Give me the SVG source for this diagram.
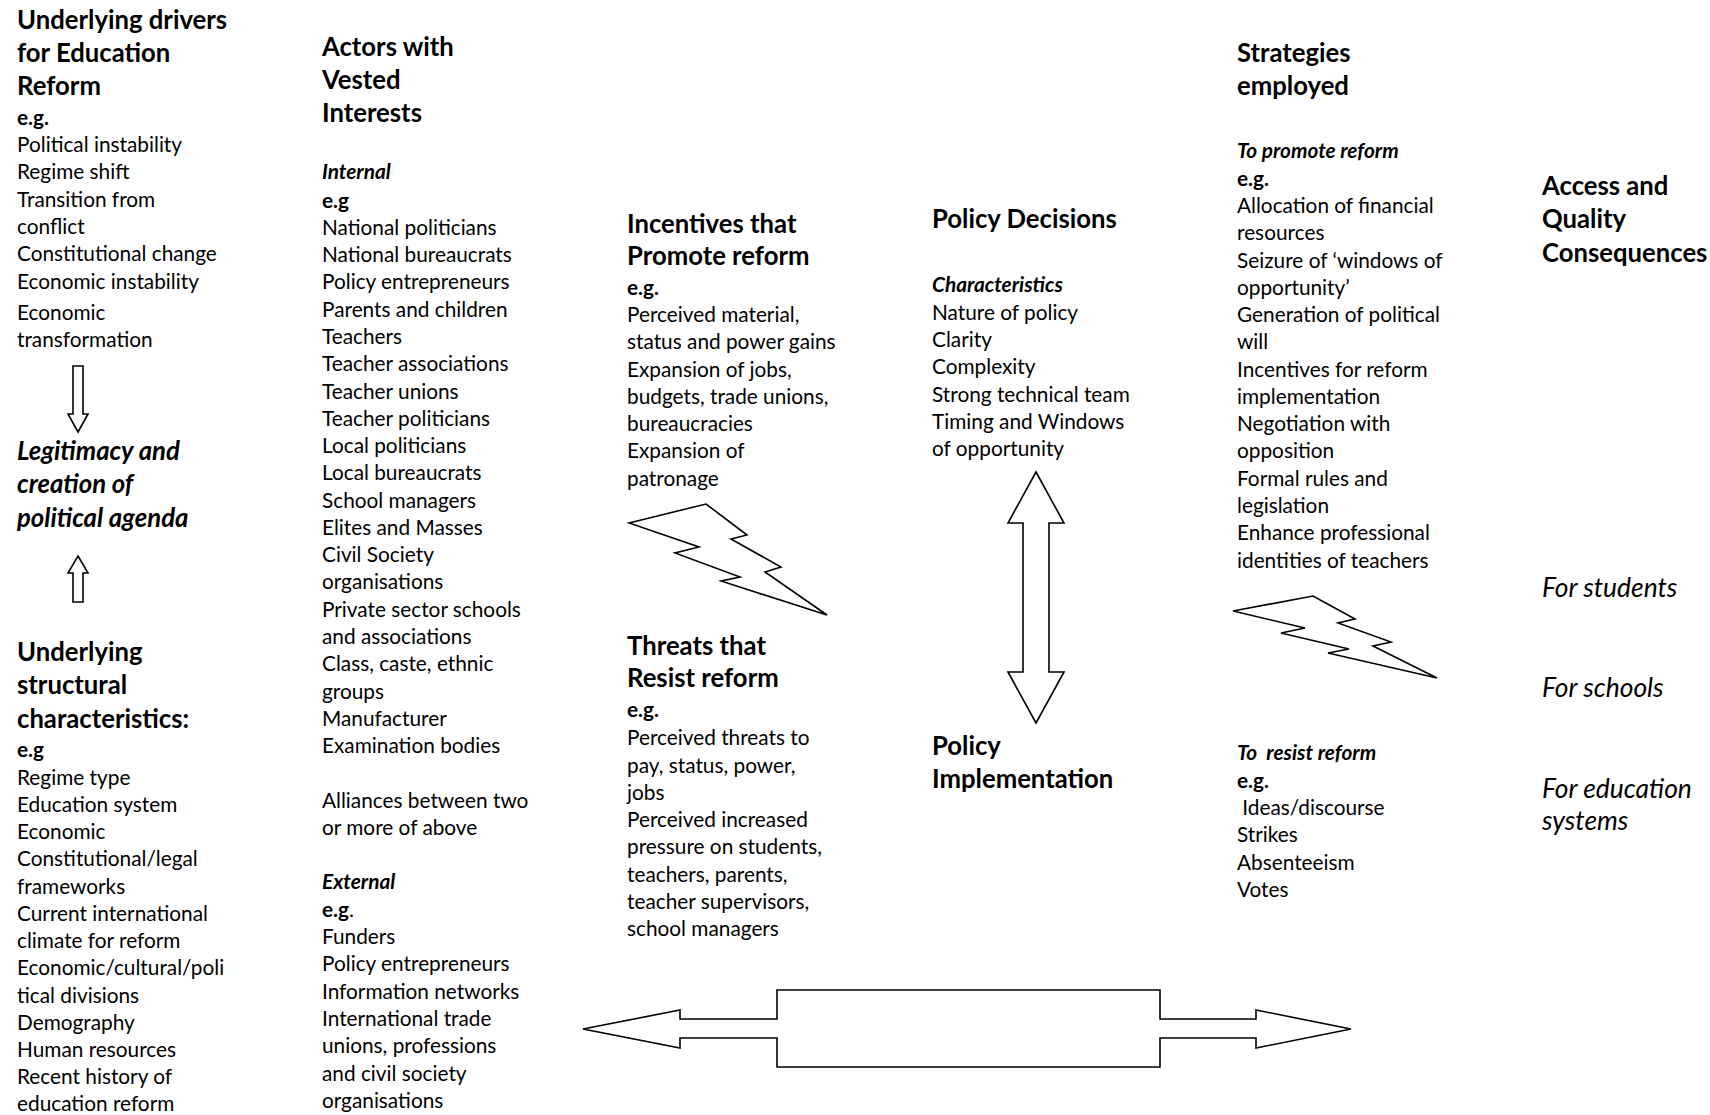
<svg xmlns="http://www.w3.org/2000/svg" width="1710" height="1115" viewBox="0 0 1710 1115">
<style>
text{font-family:Lato,"Liberation Sans",sans-serif;fill:#000}
.h{font-size:25.7px;font-weight:700}
.hi{font-size:25.7px;font-weight:700;font-style:italic}
.it{font-size:26.4px;font-style:italic}
.b{font-size:20.8px}
.eg{font-size:20.8px;font-weight:700}
.bi{font-size:20.8px;font-weight:700;font-style:italic}
.shape{fill:#fff;stroke:#000;stroke-width:1.6;stroke-linejoin:miter}
</style>
<rect width="1710" height="1115" fill="#fff"/>

<g transform="translate(0,2)">
<g id="drivers">
<text class="h" x="17"><tspan x="17" y="27">Underlying drivers</tspan><tspan x="17" y="60">for Education</tspan><tspan x="17" y="93">Reform</tspan></text>
<text class="eg" x="17" y="123">e.g.</text>
<text class="b"><tspan x="17" y="150">Political instability</tspan><tspan x="17" y="177">Regime shift</tspan><tspan x="17" y="205">Transition from</tspan><tspan x="17" y="232">conflict</tspan><tspan x="17" y="259">Constitutional change</tspan><tspan x="17" y="287">Economic instability</tspan><tspan x="17" y="318">Economic</tspan><tspan x="17" y="345">transformation</tspan></text>
</g>

<g id="legitimacy">
<text class="hi"><tspan x="17" y="458">Legitimacy and</tspan><tspan x="17" y="491">creation of</tspan><tspan x="17" y="525">political agenda</tspan></text>
</g>

<g id="structural">
<text class="h"><tspan x="17" y="659">Underlying</tspan><tspan x="17" y="692">structural</tspan><tspan x="17" y="726">characteristics:</tspan></text>
<text class="eg" x="17" y="755">e.g</text>
<text class="b"><tspan x="17" y="783">Regime type</tspan><tspan x="17" y="810">Education system</tspan><tspan x="17" y="837">Economic</tspan><tspan x="17" y="864">Constitutional/legal</tspan><tspan x="17" y="892">frameworks</tspan><tspan x="17" y="919">Current international</tspan><tspan x="17" y="946">climate for reform</tspan><tspan x="17" y="973">Economic/cultural/poli</tspan><tspan x="17" y="1001">tical divisions</tspan><tspan x="17" y="1028">Demography</tspan><tspan x="17" y="1055">Human resources</tspan><tspan x="17" y="1082">Recent history of</tspan><tspan x="17" y="1109">education reform</tspan></text>
</g>

<g id="actors">
<text class="h"><tspan x="322" y="54">Actors with</tspan><tspan x="322" y="87">Vested</tspan><tspan x="322" y="120">Interests</tspan></text>
<text class="bi" x="322" y="177">Internal</text>
<text class="eg" x="322" y="206">e.g</text>
<text class="b"><tspan x="322" y="233">National politicians</tspan><tspan x="322" y="260">National bureaucrats</tspan><tspan x="322" y="287">Policy entrepreneurs</tspan><tspan x="322" y="315">Parents and children</tspan><tspan x="322" y="342">Teachers</tspan><tspan x="322" y="369">Teacher associations</tspan><tspan x="322" y="397">Teacher unions</tspan><tspan x="322" y="424">Teacher politicians</tspan><tspan x="322" y="451">Local politicians</tspan><tspan x="322" y="478">Local bureaucrats</tspan><tspan x="322" y="506">School managers</tspan><tspan x="322" y="533">Elites and Masses</tspan><tspan x="322" y="560">Civil Society</tspan><tspan x="322" y="587">organisations</tspan><tspan x="322" y="615">Private sector schools</tspan><tspan x="322" y="642">and associations</tspan><tspan x="322" y="669">Class, caste, ethnic</tspan><tspan x="322" y="697">groups</tspan><tspan x="322" y="724">Manufacturer</tspan><tspan x="322" y="751">Examination bodies</tspan><tspan x="322" y="806">Alliances between two</tspan><tspan x="322" y="833">or more of above</tspan></text>
<text class="bi" x="322" y="887">External</text>
<text class="b" x="322" y="915"><tspan class="eg">e.g</tspan>.</text>
<text class="b"><tspan x="322" y="942">Funders</tspan><tspan x="322" y="969">Policy entrepreneurs</tspan><tspan x="322" y="997">Information networks</tspan><tspan x="322" y="1024">International trade</tspan><tspan x="322" y="1051">unions, professions</tspan><tspan x="322" y="1079">and civil society</tspan><tspan x="322" y="1106">organisations</tspan></text>
</g>

<g id="incentives">
<text class="h"><tspan x="627" y="231">Incentives that</tspan><tspan x="627" y="263">Promote reform</tspan></text>
<text class="eg" x="627" y="293">e.g.</text>
<text class="b"><tspan x="627" y="320">Perceived material,</tspan><tspan x="627" y="347">status and power gains</tspan><tspan x="627" y="375">Expansion of jobs,</tspan><tspan x="627" y="402">budgets, trade unions,</tspan><tspan x="627" y="429">bureaucracies</tspan><tspan x="627" y="456">Expansion of</tspan><tspan x="627" y="484">patronage</tspan></text>
</g>

<g id="threats">
<text class="h"><tspan x="627" y="653">Threats that</tspan><tspan x="627" y="685">Resist reform</tspan></text>
<text class="eg" x="627" y="715">e.g.</text>
<text class="b"><tspan x="627" y="743">Perceived threats to</tspan><tspan x="627" y="771">pay, status, power,</tspan><tspan x="627" y="798">jobs</tspan><tspan x="627" y="825">Perceived increased</tspan><tspan x="627" y="852">pressure on students,</tspan><tspan x="627" y="880">teachers, parents,</tspan><tspan x="627" y="907">teacher supervisors,</tspan><tspan x="627" y="934">school managers</tspan></text>
</g>

<g id="policy-decisions">
<text class="h" x="932" y="226">Policy Decisions</text>
<text class="bi" x="932" y="290">Characteristics</text>
<text class="b"><tspan x="932" y="318">Nature of policy</tspan><tspan x="932" y="345">Clarity</tspan><tspan x="932" y="372">Complexity</tspan><tspan x="932" y="400">Strong technical team</tspan><tspan x="932" y="427">Timing and Windows</tspan><tspan x="932" y="454">of opportunity</tspan></text>
</g>

<g id="policy-implementation">
<text class="h"><tspan x="932" y="753">Policy</tspan><tspan x="932" y="786">Implementation</tspan></text>
</g>

<g id="strategies">
<text class="h"><tspan x="1237" y="60">Strategies</tspan><tspan x="1237" y="93">employed</tspan></text>
<text class="bi" x="1237" y="156">To promote reform</text>
<text class="eg" x="1237" y="184">e.g.</text>
<text class="b"><tspan x="1237" y="211">Allocation of financial</tspan><tspan x="1237" y="238">resources</tspan><tspan x="1237" y="266">Seizure of &#8216;windows of</tspan><tspan x="1237" y="293">opportunity&#8217;</tspan><tspan x="1237" y="320">Generation of political</tspan><tspan x="1237" y="347">will</tspan><tspan x="1237" y="375">Incentives for reform</tspan><tspan x="1237" y="402">implementation</tspan><tspan x="1237" y="429">Negotiation with</tspan><tspan x="1237" y="456">opposition</tspan><tspan x="1237" y="484">Formal rules and</tspan><tspan x="1237" y="511">legislation</tspan><tspan x="1237" y="538">Enhance professional</tspan><tspan x="1237" y="566">identities of teachers</tspan></text>
</g>

<g id="strategies-resist">
<text class="bi" x="1237" y="758" xml:space="preserve">To  resist reform</text>
<text class="eg" x="1237" y="786">e.g.</text>
<text class="b" xml:space="preserve"><tspan x="1237" y="813"> Ideas/discourse</tspan><tspan x="1237" y="840">Strikes</tspan><tspan x="1237" y="868">Absenteeism</tspan><tspan x="1237" y="895">Votes</tspan></text>
</g>

<g id="consequences">
<text class="h"><tspan x="1542" y="193">Access and</tspan><tspan x="1542" y="226">Quality</tspan><tspan x="1542" y="260">Consequences</tspan></text>
<text class="it" x="1542" y="595">For students</text>
<text class="it" x="1542" y="695">For schools</text>
<text class="it"><tspan x="1542" y="796">For education</tspan><tspan x="1542" y="828">systems</tspan></text>
</g>
</g>

<g id="connectors">
<path class="shape" d="M73,366 H83 V414 H88 L78,432 L68,414 H73 Z"/>
<path class="shape" d="M78,556 L88,573 H83 V602 H73 V573 H68 Z"/>
<path class="shape" d="M1036,472 L1064,523 H1049 V672 H1064 L1036,723 L1008,672 H1023 V523 H1008 Z"/>
<path class="shape" d="M583,1029 L680,1010 V1019 H777 V990 H1160 V1019 H1256 V1010 L1351,1029 L1256,1048 V1038 H1160 V1067 H777 V1038 H680 V1048 Z"/>
<path class="shape" d="M629,523 L706,504 L747,535 L731,539 L781,567 L765,572 L827,615 L721,581 L740,577 L675,553 L699,547 Z"/>
<path class="shape" d="M1233,611 L1313,596 L1355,619 L1338,623 L1391,642 L1373,646 L1437,678 L1328,653 L1349,649 L1281,633 L1305,628 Z"/>
</g>
</svg>
